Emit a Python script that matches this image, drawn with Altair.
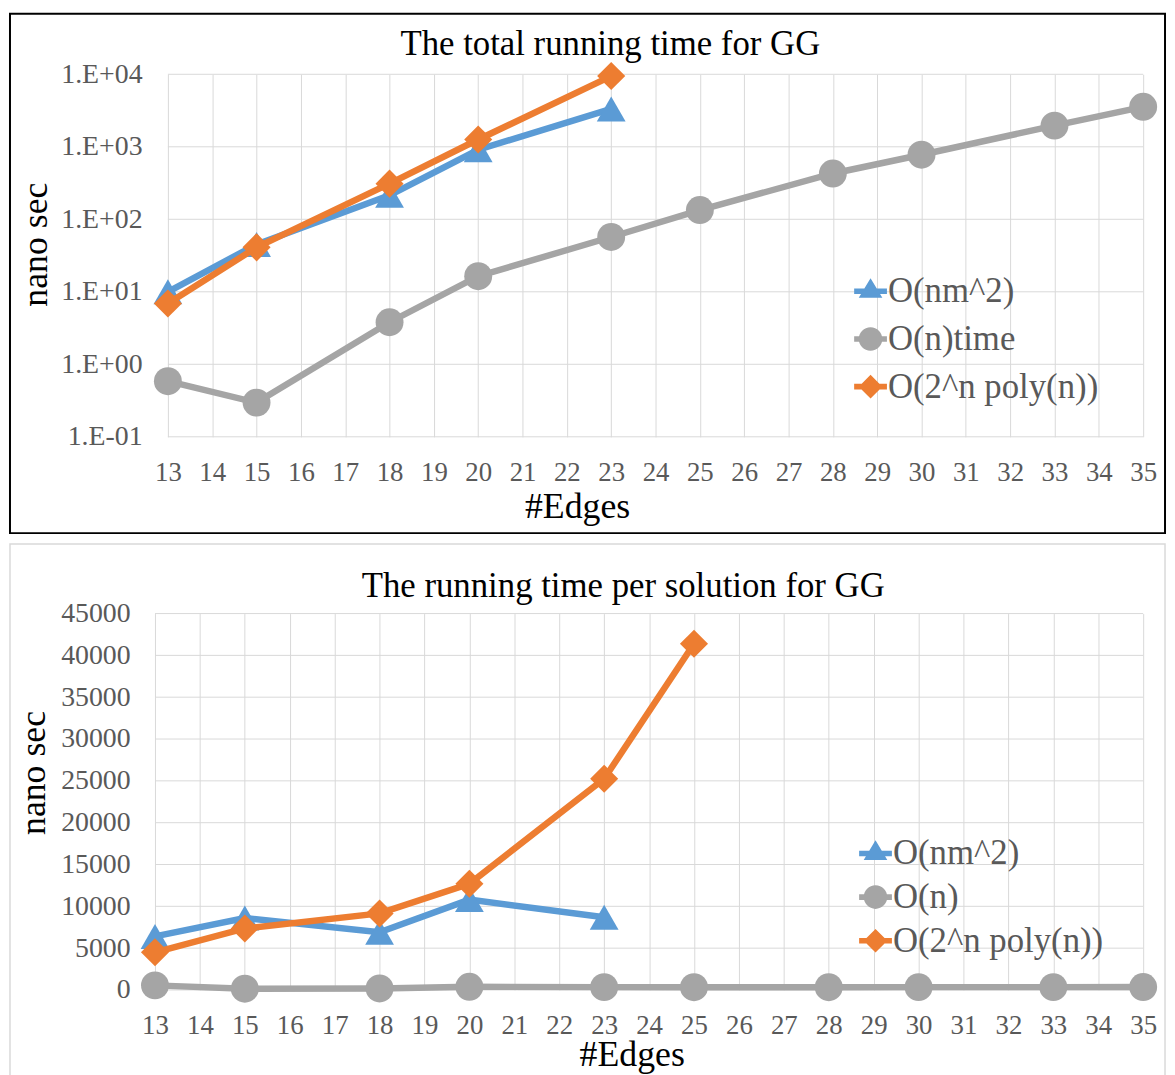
import altair as alt
import pandas as pd

FONT = "Liberation Serif"

# ---------------- data ----------------
edges = [13, 15, 18, 20, 23, 25, 28, 30, 33, 35]
x_ticks = list(range(13, 36))

names_top = ["O(nm^2)", "O(n)time", "O(2^n poly(n))"]
names_bot = ["O(nm^2)", "O(n)", "O(2^n poly(n))"]
colors = ["#5B9BD5", "#A5A5A5", "#ED7D31"]

# total running time (log scale)
total_nm2 = [10, 45, 214, 910, 3330]
total_on = [0.585, 0.296, 3.8, 16.4, 57, 134, 428, 777, 1960, 3560]
total_exp = [6.9, 41, 310, 1260, 9450]
top_y_ticks = [0.1, 1, 10, 100, 1000, 10000]

# running time per solution (linear)
per_nm2 = [6400, 8600, 6900, 10800, 8700]
per_on = [550, 150, 180, 380, 340, 330, 330, 340, 340, 350]
per_exp = [4500, 7350, 9150, 12700, 25250, 41400]
bot_y_ticks = list(range(0, 45001, 5000))


def long_df(names, series):
    rows = []
    for k, (name, vals) in enumerate(zip(names, series)):
        for x, v in zip(edges, vals):
            rows.append({"edges": x, "value": v, "series": name, "k": k})
    return pd.DataFrame(rows)


df_top = long_df(names_top, [total_nm2, total_on, total_exp])
df_bot = long_df(names_bot, [per_nm2, per_on, per_exp])

LINE = "M-1,-0.17L1,-0.17L1,0.17L-1,0.17Z"
TRI = LINE + "M0,-0.8L0.72,0.4L-0.72,0.4Z"
CIR = LINE + "M-0.72,0A0.72,0.72,0,1,1,0.72,0A0.72,0.72,0,1,1,-0.72,0Z"
DIA = LINE + "M0,-0.72L0.72,0L0,0.72L-0.72,0Z"

marker_shapes = ["triangle-up", "circle", "diamond"]
marker_sizes = [840, 790, 800]


def panel(df, names, title, title_xy, width, height, xdomain,
          yscale, yticks, yaxis, xaxis, legend_x, legend_y, row_pad, border):
    cscale = alt.Scale(domain=names, range=colors)
    xscale = alt.Scale(domain=xdomain, nice=False, zero=False)
    X = alt.X("edges:Q", scale=xscale, axis=xaxis)
    Y = alt.Y("value:Q", scale=yscale, axis=yaxis)

    # horizontal grid lines, from 13 to 35 only
    grid = alt.Chart(pd.DataFrame({"value": yticks})).mark_rule(
        color="#d9d9d9", strokeWidth=1
    ).encode(y=Y, x=alt.datum(13, scale=xscale), x2=alt.datum(35))

    base = alt.Chart(df)
    series_layers = []
    for k in range(3):
        sub = base.transform_filter(alt.datum.k == k)
        series_layers.append(
            sub.mark_line(strokeWidth=6.5, color=colors[k]).encode(x=X, y=Y))
        series_layers.append(
            sub.mark_point(filled=True, opacity=1, shape=marker_shapes[k],
                           size=marker_sizes[k], color=colors[k]).encode(x=X, y=Y))

    leg = alt.Legend(
        title=None, orient="none", legendX=legend_x, legendY=legend_y,
        labelFont=FONT, labelFontSize=35, labelColor="#595959", labelLimit=500,
        labelOffset=0, rowPadding=row_pad, padding=0,
        symbolStrokeWidth=0, symbolSize=1089, symbolOpacity=1,
    )
    legend_layer = base.transform_filter(alt.datum.k < 0).mark_point(
        filled=True, opacity=1
    ).encode(
        x=X, y=Y,
        color=alt.Color("series:N", scale=cscale, legend=leg),
        shape=alt.Shape("series:N", scale=alt.Scale(domain=names, range=[TRI, CIR, DIA]),
                        legend=leg),
    )

    bx0, bx1, by0, by1, bcol, bw = border
    one = alt.Chart(pd.DataFrame({"f": [0]}))
    frame = one.mark_rect(fill="transparent", stroke=bcol, strokeWidth=bw).encode(
        x=alt.value(bx0), x2=alt.value(bx1), y=alt.value(by0), y2=alt.value(by1))
    heading = one.mark_text(
        text=title, font=FONT, fontSize=35, color="black",
        align="center", baseline="alphabetic"
    ).encode(x=alt.value(title_xy[0]), y=alt.value(title_xy[1]))

    return alt.layer(frame, grid, *series_layers, legend_layer, heading).properties(
        width=width, height=height)


common_axis = dict(ticks=False, tickSize=0, labelFlush=False, labelOverlap=False,
                   grid=False, domain=False, titleBaseline="alphabetic")
x_common = {k: v for k, v in common_axis.items() if k != "grid"}

top = panel(
    df_top, names_top, "The total running time for GG", (458.5, -19), 995, 365,
    [12.7088, 35],
    alt.Scale(type="log", domain=[0.1, 10000], nice=False), top_y_ticks,
    alt.Axis(values=top_y_ticks, title="nano sec", labelPadding=13, labelFontSize=28,
             labelExpr="'1.E' + (datum.value < 1 ? '-' : '+') + '0' + abs(round(log(datum.value) / LN10))",
             titleAngle=270, titleX=-109, titleY=171, **common_axis),
    alt.Axis(values=x_ticks, format="d", title="#Edges", labelPadding=44, grid=True,
             labelBaseline="alphabetic", titleX=425, titleY=81, **x_common),
    703, 201, 12,
    (-146, 1017, -61, 462, "black", 2),
)

bottom = panel(
    df_bot, names_bot, "The running time per solution for GG", (471.5, -17), 995, 379,
    [13, 35],
    alt.Scale(domain=[0, 45000], nice=False), bot_y_ticks,
    alt.Axis(values=bot_y_ticks, format="d", title="nano sec", labelPadding=25,
             labelFontSize=28, titleAngle=270, titleX=-111, titleY=160, **common_axis),
    alt.Axis(values=x_ticks, format="d", title="#Edges", labelPadding=44, grid=True,
             labelBaseline="alphabetic", titleX=480, titleY=76, **x_common),
    708, 224, 8,
    (-146, 1017, -70, 478, "#d9d9d9", 1.5),
)

chart = alt.vconcat(top, bottom, spacing=7).resolve_scale(
    color="independent", shape="independent"
).resolve_legend(
    color="independent", shape="independent"
).properties(
    padding=0, background="white"
).configure_view(
    stroke="transparent"
).configure_axis(
    labelFont=FONT, labelFontSize=27, labelColor="#595959",
    titleFont=FONT, titleFontSize=36, titleFontWeight="normal", titleColor="black",
    gridColor="#d9d9d9", gridWidth=1,
)

chart.save("out.html", embed_options={"renderer": "svg", "actions": False})
